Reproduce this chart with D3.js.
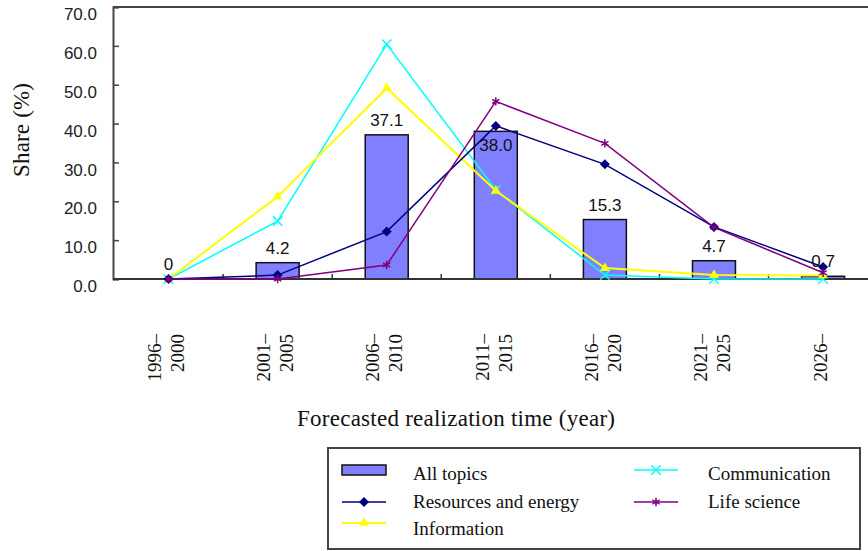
<!DOCTYPE html>
<html>
<head>
<meta charset="utf-8">
<script src="https://cdn.jsdelivr.net/npm/d3@7"></script>
<style>
  body { margin: 0; background: #fff; }
  svg { display: block; }
</style>
</head>
<body>
<svg id="chart" width="868" height="551"></svg>
<script>
// Forecasted realization periods (x categories)
const categories = ["1996–2000", "2001–2005", "2006–2010", "2011–2015", "2016–2020", "2021–2025", "2026–"];

// Share (%) of topics per period
const allTopics   = [0, 4.2, 37.1, 38.0, 15.3, 4.7, 0.7];
const resources   = [0, 1.0, 12.2, 39.4, 29.5, 13.4, 3.1];
const information = [0, 21.2, 49.1, 22.7, 2.8, 1.0, 0.9];
const communication = [0, 14.9, 60.4, 22.9, 1.0, 0, 0];
const lifeScience = [0, 0, 3.6, 45.7, 34.9, 13.3, 1.6];

const yTicks = [0, 10, 20, 30, 40, 50, 60, 70];

const yTitle = "Share (%)";
const xTitle = "Forecasted realization time (year)";

const serif = "'Liberation Serif', 'Times New Roman', serif";
const sans = "'Liberation Sans', Arial, sans-serif";

const svg = d3.select("#chart");

const x = d3.scaleBand().domain(categories).range([114, 877.6]).padding(0);
const y = d3.scaleLinear().domain([0, 70]).range([279, 7]);
const bw = x.bandwidth();
const cx = c => x(c) + bw / 2;

// plot frame: top edge
svg.append("line")
  .attr("x1", 113).attr("x2", 868)
  .attr("y1", y(70)).attr("y2", y(70))
  .attr("stroke", "#444").attr("stroke-width", 2);

// y axis
const yAxis = svg.append("g")
  .attr("transform", "translate(113,0)")
  .call(d3.axisLeft(y).tickValues(yTicks).tickSize(-6).tickPadding(16).tickFormat(d3.format(".1f")));
yAxis.select(".domain").attr("stroke", "#444").attr("stroke-width", 2);
yAxis.selectAll(".tick line").attr("stroke", "#444").attr("stroke-width", 1.5);
yAxis.selectAll(".tick text")
  .attr("font-family", sans).attr("font-size", 17).attr("fill", "#222").attr("dy", "0.74em");

// bars: all topics
const barW = bw * 0.394;
svg.append("g").selectAll("rect")
  .data(categories)
  .join("rect")
  .attr("x", c => cx(c) - barW / 2)
  .attr("y", (c, i) => y(allTopics[i]))
  .attr("width", barW)
  .attr("height", (c, i) => y(0) - y(allTopics[i]))
  .attr("fill", "#8080ff")
  .attr("stroke", "#111")
  .attr("stroke-width", 1.5);

// x axis line and category separators
svg.append("line")
  .attr("x1", 113).attr("x2", 868)
  .attr("y1", y(0)).attr("y2", y(0))
  .attr("stroke", "#333").attr("stroke-width", 2);
svg.append("g").selectAll("line")
  .data(categories.slice(1))
  .join("line")
  .attr("x1", c => x(c)).attr("x2", c => x(c))
  .attr("y1", y(0) - 5).attr("y2", y(0) + 1)
  .attr("stroke", "#333").attr("stroke-width", 1.5);

// line series
const series = [
  { name: "Resources and energy", values: resources, color: "#000080", marker: "diamond", width: 1.5 },
  { name: "Information", values: information, color: "#ffff00", marker: "triangle", width: 2 },
  { name: "Communication", values: communication, color: "#00ffff", marker: "times", width: 1.5 },
  { name: "Life science", values: lifeScience, color: "#800080", marker: "asterisk", width: 1.5 }
];

function markerPath(kind) {
  if (kind === "diamond") return d3.symbol(d3.symbolSquare, 50)();
  if (kind === "triangle") return d3.symbol(d3.symbolTriangle, 42)();
  if (kind === "times") return d3.symbol(d3.symbolTimes, 60)();
  return d3.symbol(d3.symbolAsterisk, 48)();
}
function drawMarker(g, kind, color) {
  const p = g.append("path").attr("d", markerPath(kind));
  if (kind === "diamond") p.attr("transform", "rotate(45)").attr("fill", color);
  else if (kind === "triangle") p.attr("fill", color);
  else p.attr("fill", "none").attr("stroke", color).attr("stroke-width", 1.5);
}

const line = d3.line().x((v, i) => cx(categories[i])).y(v => y(v));

const drawOrder = [series[2], series[1], series[0], series[3]];
drawOrder.forEach(s => {
  svg.append("path")
    .attr("d", line(s.values))
    .attr("fill", "none")
    .attr("stroke", s.color)
    .attr("stroke-width", s.width);
  s.values.forEach((v, i) => {
    const g = svg.append("g").attr("transform", `translate(${cx(categories[i])},${y(v)})`);
    drawMarker(g, s.marker, s.color);
  });
});

// bar value labels
svg.append("g").selectAll("text")
  .data(categories)
  .join("text")
  .attr("x", c => cx(c))
  .attr("y", (c, i) => i === 3 ? y(allTopics[i]) + 20 : y(allTopics[i]) - 9)
  .attr("text-anchor", "middle")
  .attr("font-family", sans)
  .attr("font-size", 17)
  .attr("fill", "#111")
  .text((c, i) => allTopics[i] === 0 ? "0" : allTopics[i].toFixed(1));

// category labels, rotated, split after the dash
const catG = svg.append("g").selectAll("g")
  .data(categories)
  .join("g");
catG.each(function (c) {
  const parts = c.split(/(?<=–)/);
  const n = parts.length;
  const g = d3.select(this).attr("transform", `translate(${cx(c)},334) rotate(-90)`);
  parts.forEach((p, k) => {
    g.append("text")
      .attr("x", 0)
      .attr("y", -2.5 - (n - 1) * 23 / 2 + 6.75 + k * 23)
      .attr("text-anchor", "end")
      .attr("font-family", serif)
      .attr("font-size", 19)
      .attr("fill", "#111")
      .text(p);
  });
});

// axis titles
svg.append("text")
  .attr("x", 456).attr("y", 426)
  .attr("text-anchor", "middle")
  .attr("font-family", serif).attr("font-size", 23).attr("fill", "#111")
  .attr("textLength", 318).attr("lengthAdjust", "spacing")
  .text(xTitle);

svg.append("text")
  .attr("transform", "translate(28.5,130) rotate(-90)")
  .attr("text-anchor", "middle")
  .attr("font-family", serif).attr("font-size", 23).attr("fill", "#111")
  .attr("textLength", 94).attr("lengthAdjust", "spacing")
  .text(yTitle);

// legend
const legend = svg.append("g");
legend.append("rect")
  .attr("x", 328).attr("y", 448).attr("width", 532).attr("height", 101)
  .attr("fill", "#fff").attr("stroke", "#444").attr("stroke-width", 2);

const legendItems = [
  { label: "All topics", col: 0, row: 0, bar: true },
  { label: series[0].name, col: 0, row: 1, s: series[0] },
  { label: series[1].name, col: 0, row: 2, s: series[1] },
  { label: series[2].name, col: 1, row: 0, s: series[2] },
  { label: series[3].name, col: 1, row: 1, s: series[3] }
];
const colX = [342, 634];
const textX = [413, 708];
const rowY = [470, 502, 523];
const rowBase = [480, 508, 535];

legendItems.forEach(it => {
  const x0 = colX[it.col];
  const yy = rowY[it.row];
  if (it.bar) {
    legend.append("rect")
      .attr("x", x0).attr("y", 465).attr("width", 44).attr("height", 10)
      .attr("fill", "#8080ff").attr("stroke", "#111").attr("stroke-width", 1.5);
  } else {
    legend.append("line")
      .attr("x1", x0).attr("x2", x0 + 44)
      .attr("y1", yy).attr("y2", yy)
      .attr("stroke", it.s.color).attr("stroke-width", it.s.width);
    const g = legend.append("g").attr("transform", `translate(${x0 + 22},${yy})`);
    drawMarker(g, it.s.marker, it.s.color);
  }
  legend.append("text")
    .attr("x", textX[it.col]).attr("y", rowBase[it.row])
    .attr("font-family", serif).attr("font-size", 19).attr("fill", "#111")
    .text(it.label);
});
</script>
</body>
</html>
